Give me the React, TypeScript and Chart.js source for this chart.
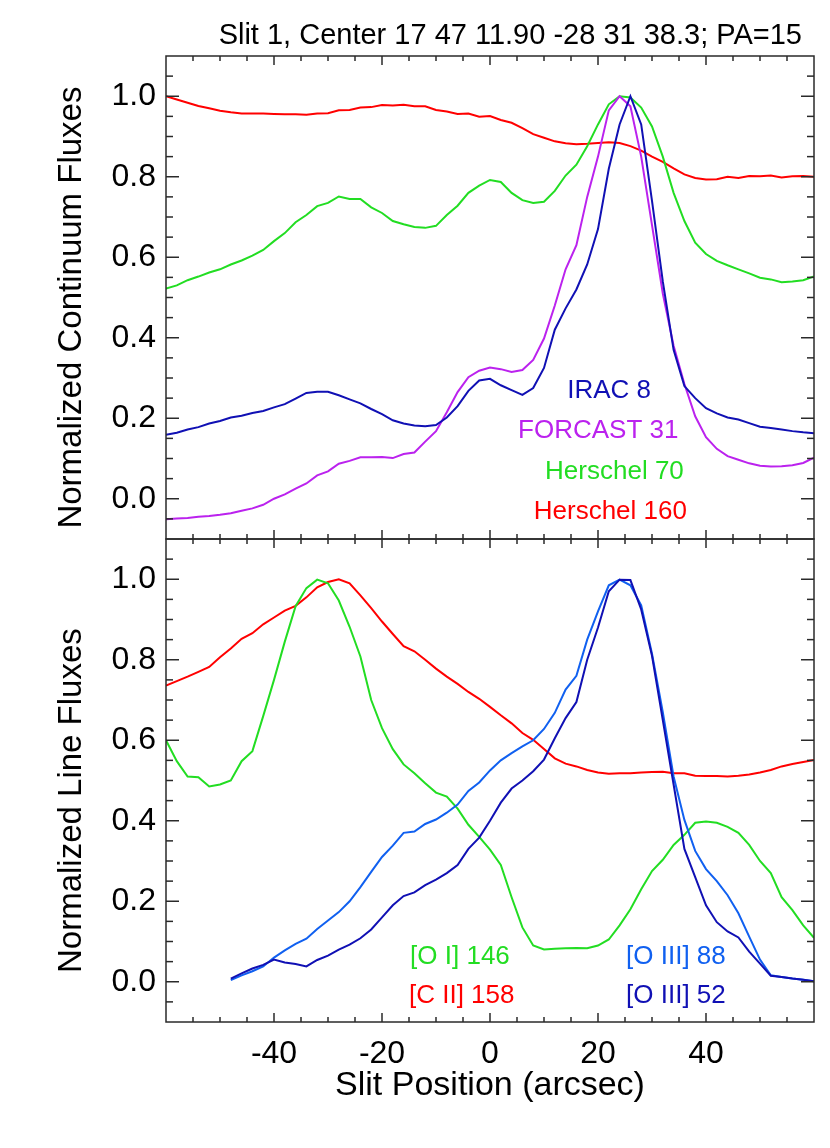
import React, { useEffect, useRef } from "react";
import { Chart, registerables } from "chart.js";

Chart.register(...registerables);

// ---------- data ----------
const TITLE = "Slit 1, Center 17 47 11.90 -28 31 38.3; PA=15";
const X_TITLE = "Slit Position (arcsec)";
const Y_TITLE_TOP = "Normalized Continuum Fluxes";
const Y_TITLE_BOT = "Normalized Line Fluxes";

const X = [
  -60, -58, -56, -54, -52, -50, -48, -46, -44, -42, -40, -38, -36, -34, -32, -30,
  -28, -26, -24, -22, -20, -18, -16, -14, -12, -10, -8, -6, -4, -2, 0, 2, 4, 6, 8,
  10, 12, 14, 16, 18, 20, 22, 24, 26, 28, 30, 32, 34, 36, 38, 40, 42, 44, 46, 48,
  50, 52, 54, 56, 58, 60,
];

// top panel (continuum)
const IRAC8 = [
  0.159, 0.164, 0.172, 0.178, 0.187, 0.193, 0.202, 0.206, 0.213, 0.218, 0.227,
  0.235, 0.249, 0.263, 0.266, 0.266, 0.257, 0.247, 0.237, 0.223, 0.21, 0.195,
  0.187, 0.182, 0.18, 0.183, 0.202, 0.23, 0.268, 0.294, 0.298, 0.282, 0.27, 0.258,
  0.275, 0.325, 0.42, 0.473, 0.52, 0.582, 0.67, 0.82, 0.93, 1.0, 0.93, 0.74, 0.54,
  0.37, 0.28, 0.25, 0.225, 0.212, 0.202, 0.197, 0.188, 0.179, 0.176, 0.172, 0.168,
  0.165, 0.163,
];
const FORCAST31 = [
  -0.051, -0.049, -0.048, -0.045, -0.043, -0.04, -0.036, -0.03, -0.024, -0.015, 0.0,
  0.011, 0.025, 0.038, 0.058, 0.068, 0.087, 0.094, 0.103, 0.103, 0.104, 0.101,
  0.111, 0.115, 0.142, 0.168, 0.215, 0.265, 0.302, 0.318, 0.326, 0.322, 0.315,
  0.32, 0.345, 0.398, 0.48, 0.57, 0.63, 0.75, 0.85, 0.965, 1.0, 0.975, 0.85, 0.68,
  0.51, 0.38, 0.285, 0.205, 0.153, 0.124, 0.106, 0.097, 0.088, 0.082, 0.08, 0.081,
  0.083, 0.089, 0.102,
];
const HERSCHEL70 = [
  0.522, 0.53, 0.543, 0.552, 0.562, 0.57, 0.582, 0.592, 0.604, 0.618, 0.64, 0.66,
  0.687, 0.705, 0.727, 0.735, 0.751, 0.745, 0.745, 0.724, 0.71, 0.69, 0.682, 0.675,
  0.673, 0.678, 0.705, 0.728, 0.76, 0.778, 0.792, 0.787, 0.76, 0.742, 0.735, 0.738,
  0.765, 0.803, 0.83, 0.876, 0.93, 0.98, 1.0, 0.997, 0.972, 0.925, 0.85, 0.76, 0.69,
  0.636, 0.608, 0.591, 0.58, 0.57, 0.56, 0.549, 0.545, 0.538, 0.54, 0.543, 0.552,
];
const HERSCHEL160 = [
  1.0, 0.992, 0.984, 0.976, 0.97, 0.964, 0.96, 0.957, 0.957, 0.957, 0.956, 0.955,
  0.955, 0.954, 0.957, 0.958, 0.965, 0.966, 0.972, 0.973, 0.978, 0.977, 0.979,
  0.975, 0.975, 0.966, 0.962, 0.956, 0.957, 0.949, 0.951, 0.941, 0.934, 0.921,
  0.906, 0.897, 0.888, 0.883, 0.881, 0.882, 0.884, 0.886, 0.884, 0.876, 0.865,
  0.85, 0.837, 0.821, 0.806, 0.797, 0.793, 0.794, 0.8, 0.797, 0.802, 0.801, 0.803,
  0.798, 0.801, 0.802, 0.8,
];

// bottom panel (lines)
const OI146 = [
  0.6, 0.548, 0.51, 0.508, 0.485, 0.49, 0.5, 0.548, 0.573, 0.66, 0.75, 0.845, 0.933,
  0.978, 0.999, 0.99, 0.947, 0.882, 0.808, 0.7, 0.63, 0.578, 0.54, 0.518, 0.493,
  0.47, 0.46, 0.43, 0.39, 0.36, 0.328, 0.29, 0.21, 0.135, 0.09, 0.08, 0.082,
  0.083, 0.084, 0.083, 0.09, 0.105, 0.14, 0.18, 0.23, 0.275, 0.303, 0.34, 0.365,
  0.395, 0.398, 0.395, 0.385, 0.37, 0.34, 0.3, 0.27, 0.21, 0.178, 0.14, 0.109,
];
const CII158 = [
  0.736, 0.747, 0.758, 0.77, 0.782, 0.806, 0.828, 0.852, 0.866, 0.888, 0.905,
  0.922, 0.934, 0.955, 0.98, 0.993, 1.0, 0.99, 0.96, 0.928, 0.895, 0.864, 0.834,
  0.821, 0.8, 0.778, 0.758, 0.74, 0.72, 0.703, 0.683, 0.662, 0.642, 0.618, 0.601,
  0.578, 0.555, 0.542, 0.535, 0.526, 0.52, 0.517, 0.518, 0.518, 0.52, 0.521, 0.522,
  0.518, 0.518, 0.512, 0.511, 0.511, 0.51, 0.512, 0.515, 0.52, 0.526, 0.535, 0.541,
  0.546, 0.551,
];
const OIII88 = [
  null, null, null, null, null, null, 0.004, 0.016, 0.026, 0.038, 0.06, 0.078,
  0.094, 0.107, 0.131, 0.152, 0.173, 0.2, 0.235, 0.273, 0.31, 0.338, 0.37, 0.373,
  0.392, 0.403, 0.42, 0.44, 0.474, 0.495, 0.525, 0.55, 0.568, 0.585, 0.6, 0.628,
  0.668, 0.726, 0.76, 0.85, 0.92, 0.985, 0.999, 0.985, 0.935, 0.815, 0.67, 0.51,
  0.402, 0.325, 0.28, 0.25, 0.215, 0.17, 0.112, 0.055, 0.016, 0.012, 0.008, 0.005,
  0.001,
];
const OIII52 = [
  null, null, null, null, null, null, 0.008, 0.021, 0.033, 0.042, 0.055, 0.048,
  0.044, 0.038, 0.054, 0.065, 0.08, 0.092, 0.108, 0.13, 0.16, 0.19, 0.213, 0.222,
  0.24, 0.254, 0.27, 0.29, 0.33, 0.358, 0.4, 0.445, 0.48, 0.5, 0.523, 0.552, 0.605,
  0.655, 0.695, 0.8, 0.88, 0.97, 0.999, 0.998, 0.925, 0.81, 0.65, 0.49, 0.33, 0.26,
  0.19, 0.148, 0.125, 0.11, 0.075, 0.045, 0.015, 0.012, 0.008, 0.005, 0.001,
];

// ticks
const X_TICKS = [-40, -20, 0, 20, 40];
const X_MINOR = [
  -55, -50, -45, -40, -35, -30, -25, -20, -15, -10, -5, 0, 5, 10, 15, 20, 25, 30,
  35, 40, 45, 50, 55,
];
const Y_TICKS = [0.0, 0.2, 0.4, 0.6, 0.8, 1.0];
const Y_MINOR = [
  -0.05, 0.0, 0.05, 0.1, 0.15, 0.2, 0.25, 0.3, 0.35, 0.4, 0.45, 0.5, 0.55, 0.6,
  0.65, 0.7, 0.75, 0.8, 0.85, 0.9, 0.95, 1.0, 1.05,
];

// in-plot series labels
const LABELS_TOP = ["IRAC 8", "FORCAST 31", "Herschel 70", "Herschel 160"];
const LABELS_TOP_X = [14.3, 5.2, 10.2, 8.1];
const LABELS_TOP_Y = [0.25, 0.15, 0.05, -0.05];
const LABELS_BOT = ["[O I] 146", "[C II] 158", "[O III] 88", "[O III] 52"];
const LABELS_BOT_X = [-14.8, -15.0, 25.2, 25.2];
const LABELS_BOT_Y = [0.045, -0.052, 0.045, -0.052];

// ---------- style ----------
const FONT = "'Liberation Sans', Arial, Helvetica, sans-serif";
const C_RED = "#ff0000";
const C_GREEN = "#22dd22";
const C_NAVY = "#1010b4";
const C_MAGENTA = "#bb22ee";
const C_BLUE = "#1060f0";
const AXIS_COLOR = "#2a2a2a";
const TOP_COLORS = [C_NAVY, C_MAGENTA, C_GREEN, C_RED];
const BOT_COLORS = [C_GREEN, C_RED, C_BLUE, C_NAVY];

function pts(arr: (number | null)[]) {
  const out: { x: number; y: number }[] = [];
  arr.forEach((v, i) => {
    if (v !== null) out.push({ x: X[i], y: v });
  });
  return out;
}

function ds(label: string, arr: (number | null)[], color: string, axis: string) {
  return {
    label,
    data: pts(arr),
    borderColor: color,
    backgroundColor: color,
    borderWidth: 2,
    pointRadius: 0,
    tension: 0,
    fill: false,
    yAxisID: axis,
  };
}

const framePlugin = {
  id: "idlFrame",
  afterDraw(chart: any) {
    const ctx = chart.ctx as CanvasRenderingContext2D;
    const xs = chart.scales.x;
    const yTop = chart.scales.yTop;
    const yBot = chart.scales.yBot;
    const L = xs.left;
    const R = xs.right;
    ctx.save();
    ctx.strokeStyle = AXIS_COLOR;
    ctx.lineWidth = 1.5;
    const line = (x1: number, y1: number, x2: number, y2: number) => {
      ctx.beginPath();
      ctx.moveTo(x1, y1);
      ctx.lineTo(x2, y2);
      ctx.stroke();
    };
    for (const ys of [yTop, yBot]) {
      const T = ys.top;
      const B = ys.bottom;
      ctx.strokeRect(L, T, R - L, B - T);
      for (const v of X_MINOR) {
        const px = xs.getPixelForValue(v);
        const major = X_TICKS.some((t) => Math.abs(t - v) < 1e-6);
        const len = major ? 9 : 5;
        line(px, B, px, B - len);
        line(px, T, px, T + len);
      }
      for (const v of Y_MINOR) {
        const py = ys.getPixelForValue(v);
        const major = Y_TICKS.some((t) => Math.abs(t - v) < 1e-6);
        const len = major ? 13 : 7;
        line(L, py, L + len, py);
        line(R, py, R - len, py);
      }
    }

    // title
    ctx.fillStyle = "#000";
    ctx.font = `29px ${FONT}`;
    ctx.textAlign = "right";
    ctx.textBaseline = "alphabetic";
    ctx.fillText(TITLE, R - 12, yTop.top - 12);

    // x title
    ctx.font = `34px ${FONT}`;
    ctx.textAlign = "center";
    ctx.fillText(X_TITLE, (L + R) / 2, xs.bottom - 53);

    // y titles
    const yTitle = (text: string, cy: number) => {
      ctx.save();
      ctx.translate(81, cy);
      ctx.rotate(-Math.PI / 2);
      ctx.textAlign = "center";
      ctx.textBaseline = "alphabetic";
      ctx.font = `33px ${FONT}`;
      ctx.fillText(text, 0, 0);
      ctx.restore();
    };
    yTitle(Y_TITLE_TOP, yTop.getPixelForValue(0.475));
    yTitle(Y_TITLE_BOT, yBot.getPixelForValue(0.45));

    // series labels
    ctx.font = `26px ${FONT}`;
    ctx.textAlign = "left";
    ctx.textBaseline = "alphabetic";
    LABELS_TOP.forEach((t, i) => {
      ctx.fillStyle = TOP_COLORS[i];
      ctx.fillText(t, xs.getPixelForValue(LABELS_TOP_X[i]), yTop.getPixelForValue(LABELS_TOP_Y[i]));
    });
    LABELS_BOT.forEach((t, i) => {
      ctx.fillStyle = BOT_COLORS[i];
      ctx.fillText(t, xs.getPixelForValue(LABELS_BOT_X[i]), yBot.getPixelForValue(LABELS_BOT_Y[i]));
    });
    ctx.restore();
  },
};

function yScale(stackWeight: number) {
  return {
    type: "linear" as const,
    position: "left" as const,
    stack: "panels",
    stackWeight,
    offset: false,
    min: -0.1,
    max: 1.1,
    afterBuildTicks: (s: any) => {
      s.ticks = Y_TICKS.map((v) => ({ value: v }));
    },
    afterFit: (s: any) => {
      s.width = 166;
    },
    ticks: {
      color: "#000",
      font: { family: FONT, size: 32 },
      padding: 10,
      callback: (v: any) => Number(v).toFixed(1),
    },
    grid: { display: false, drawTicks: false },
    border: { display: false },
  };
}

export default function App() {
  const ref = useRef<HTMLCanvasElement | null>(null);
  useEffect(() => {
    if (!ref.current) return;
    const chart = new Chart(ref.current, {
      type: "line",
      data: {
        datasets: [
          ds("IRAC 8", IRAC8, C_NAVY, "yTop"),
          ds("FORCAST 31", FORCAST31, C_MAGENTA, "yTop"),
          ds("Herschel 70", HERSCHEL70, C_GREEN, "yTop"),
          ds("Herschel 160", HERSCHEL160, C_RED, "yTop"),
          ds("[O III] 52", OIII52, C_NAVY, "yBot"),
          ds("[O III] 88", OIII88, C_BLUE, "yBot"),
          ds("[O I] 146", OI146, C_GREEN, "yBot"),
          ds("[C II] 158", CII158, C_RED, "yBot"),
        ],
      },
      options: {
        responsive: false,
        animation: false,
        devicePixelRatio: 1,
        events: [],
        layout: { padding: { left: 0, top: 56, right: 16, bottom: 0 } },
        plugins: { legend: { display: false }, tooltip: { enabled: false }, title: { display: false } },
        scales: {
          x: {
            type: "linear",
            position: "bottom",
            min: -60,
            max: 60,
            afterBuildTicks: (s: any) => {
              s.ticks = X_TICKS.map((v) => ({ value: v }));
            },
            afterFit: (s: any) => {
              s.height = 126;
            },
            ticks: {
              color: "#000",
              font: { family: FONT, size: 32 },
              padding: 13,
              maxRotation: 0,
              callback: (v: any) => String(v),
            },
            grid: { display: false, drawTicks: false },
            border: { display: false },
          },
          yBot: yScale(1),
          yTop: yScale(1),
        },
      } as any,
      plugins: [framePlugin],
    });
    return () => chart.destroy();
  }, []);
  return (
    <div style={{ position: "fixed", left: 0, top: 0, width: 830, height: 1148, background: "#fff" }}>
      <canvas ref={ref} width={830} height={1148} style={{ width: 830, height: 1148 }} />
    </div>
  );
}
